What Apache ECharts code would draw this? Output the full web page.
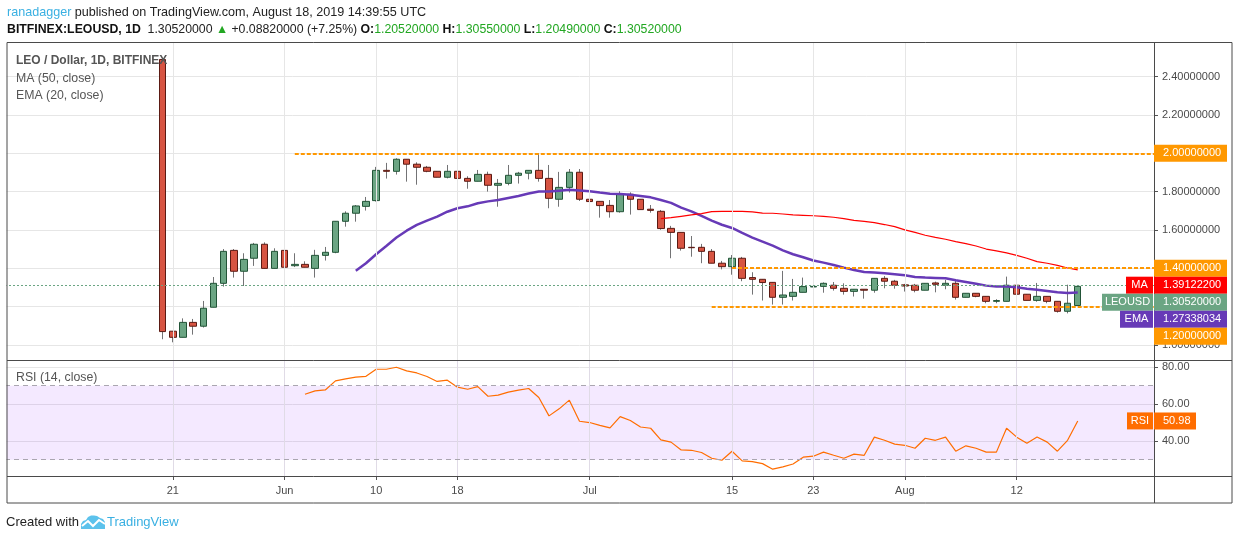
<!DOCTYPE html>
<html>
<head>
<meta charset="utf-8">
<script src="https://cdn.jsdelivr.net/npm/echarts@6/dist/echarts.min.js"></script>
<style>html,body{margin:0;padding:0;background:#fff}#c{width:1234px;height:540px}</style>
</head>
<body>
<div id="c"></div>
<script>
// ---------- DATA ----------
// daily candles from 2019-05-20 to 2019-08-18 : [open, close, low, high]
const ohlc = [
  [2.490,1.069,1.029,2.490],[1.071,1.039,1.013,1.071],[1.039,1.117,1.039,1.138],[1.117,1.097,1.053,1.135],
  [1.097,1.191,1.090,1.229],[1.196,1.321,1.196,1.354],[1.321,1.488,1.304,1.500],[1.493,1.384,1.351,1.500],
  [1.384,1.446,1.307,1.478],[1.452,1.525,1.412,1.532],[1.525,1.399,1.399,1.535],[1.399,1.488,1.399,1.504],
  [1.493,1.405,1.405,1.493],[1.413,1.420,1.406,1.478],[1.420,1.405,1.405,1.436],[1.399,1.467,1.351,1.496],
  [1.467,1.483,1.440,1.511],[1.483,1.645,1.478,1.645],[1.645,1.687,1.617,1.697],[1.687,1.725,1.643,1.730],
  [1.723,1.749,1.701,1.772],[1.753,1.911,1.748,1.929],[1.911,1.906,1.868,1.950],[1.906,1.969,1.889,1.974],
  [1.969,1.943,1.852,1.969],[1.943,1.927,1.836,1.953],[1.927,1.906,1.901,1.934],[1.906,1.875,1.875,1.906],
  [1.875,1.906,1.869,1.939],[1.906,1.869,1.852,1.922],[1.869,1.854,1.815,1.880],[1.854,1.890,1.854,1.913],
  [1.890,1.833,1.800,1.904],[1.833,1.843,1.721,1.866],[1.843,1.885,1.833,1.939],[1.885,1.896,1.842,1.903],
  [1.896,1.911,1.864,1.911],[1.911,1.869,1.852,2.000],[1.869,1.765,1.713,1.939],[1.760,1.822,1.721,1.903],
  [1.822,1.901,1.795,1.918],[1.901,1.760,1.751,1.918],[1.760,1.748,1.748,1.795],[1.749,1.727,1.664,1.749],
  [1.728,1.695,1.664,1.756],[1.695,1.786,1.690,1.802],[1.786,1.760,1.680,1.796],[1.760,1.706,1.706,1.760],
  [1.708,1.702,1.690,1.730],[1.697,1.607,1.601,1.704],[1.608,1.587,1.452,1.621],[1.587,1.504,1.492,1.587],
  [1.509,1.507,1.460,1.568],[1.509,1.488,1.426,1.527],[1.488,1.426,1.426,1.500],[1.426,1.408,1.394,1.438],
  [1.408,1.452,1.366,1.469],[1.452,1.347,1.332,1.459],[1.351,1.342,1.262,1.379],[1.342,1.325,1.231,1.342],
  [1.326,1.248,1.210,1.326],[1.248,1.260,1.210,1.386],[1.253,1.274,1.231,1.344],[1.274,1.304,1.274,1.351],
  [1.302,1.305,1.262,1.339],[1.305,1.321,1.272,1.326],[1.311,1.295,1.283,1.328],[1.295,1.279,1.262,1.321],
  [1.279,1.290,1.252,1.290],[1.290,1.285,1.241,1.290],[1.285,1.347,1.272,1.347],[1.347,1.332,1.295,1.359],
  [1.332,1.311,1.293,1.339],[1.313,1.307,1.278,1.318],[1.311,1.285,1.274,1.318],[1.285,1.321,1.285,1.321],
  [1.323,1.316,1.274,1.330],[1.311,1.321,1.290,1.339],[1.321,1.248,1.236,1.333],[1.248,1.269,1.248,1.269],
  [1.269,1.253,1.248,1.269],[1.253,1.227,1.217,1.253],[1.227,1.231,1.217,1.238],[1.227,1.311,1.227,1.356],
  [1.311,1.264,1.246,1.316],[1.264,1.232,1.232,1.264],[1.232,1.253,1.225,1.323],[1.253,1.227,1.217,1.253],
  [1.227,1.175,1.168,1.227],[1.175,1.217,1.164,1.314],[1.2052,1.3052,1.2049,1.3055]
];
// EMA(20, close) from day index 19
const ema20Start = 19;
const ema20 = [1.387,1.426,1.473,1.516,1.560,1.596,1.626,1.648,1.669,1.695,1.713,1.723,1.739,1.749,1.756,1.767,
  1.777,1.790,1.800,1.800,1.805,1.810,1.806,1.802,1.795,1.789,1.788,1.784,1.777,1.770,1.756,1.741,1.716,1.697,
  1.673,1.648,1.627,1.610,1.584,1.560,1.539,1.518,1.493,1.473,1.457,1.440,1.429,1.417,1.403,1.391,1.380,1.377,
  1.373,1.368,1.363,1.354,1.351,1.349,1.347,1.337,1.328,1.319,1.309,1.304,1.304,1.300,1.293,1.288,1.281,1.274,
  1.270,1.27338034];
// MA(50, close) from day index 49
const ma50Start = 49;
const ma50 = [1.659,1.664,1.671,1.678,1.685,1.695,1.697,1.697,1.697,1.694,1.688,1.687,1.683,1.678,1.676,1.674,
  1.671,1.666,1.659,1.650,1.645,1.638,1.628,1.617,1.600,1.587,1.572,1.561,1.551,1.539,1.528,1.516,1.500,1.490,
  1.480,1.467,1.452,1.434,1.426,1.415,1.401,1.391222];
// RSI(14, close) from day index 14
const rsiStart = 14;
const rsi14 = [65.4,67.2,67.7,72.6,73.7,74.6,75.1,78.9,78.9,80.0,78.0,76.9,75.0,72.3,73.0,69.2,68.1,69.5,64.3,
  64.9,66.5,67.6,68.5,63.6,53.7,57.5,62.2,50.8,50.1,48.6,47.2,53.3,51.2,47.7,47.0,40.7,39.5,35.3,35.1,33.9,30.8,
  29.7,34.6,29.4,29.0,27.9,24.9,26.1,27.7,31.4,31.9,34.1,32.4,30.8,33.0,32.4,42.2,40.5,38.4,37.8,36.2,41.6,40.5,
  42.2,34.6,37.5,36.2,34.1,34.1,47.0,42.2,38.9,42.3,39.5,34.6,40.5,50.98];
// horizontal levels drawn on the chart and the day they start
const levels = [2.0, 1.4, 1.2];
const levelStarts = ['2019-06-02', '2019-07-15', '2019-07-13'];
// tick labels
const priceTicks = [1.0, 1.2, 1.4, 1.6, 1.8, 2.0, 2.2, 2.4];
const rsiTicks = [40, 60, 80];
const timeTickDates = ['2019-05-21','2019-06-01','2019-06-10','2019-06-18','2019-07-01','2019-07-15','2019-07-23','2019-08-01','2019-08-12'];
const timeTickLabels = ['21','Jun','10','18','Jul','15','23','Aug','12'];

// ---------- BUILD ----------
const F = '"Liberation Sans", Arial, sans-serif';
const DAY = 86400000, T0 = Date.UTC(2019, 4, 20);
const dayStr = i => new Date(T0 + i * DAY).toISOString().slice(0, 10);
const categories = [];
for (let i = -15; i <= 97; i++) categories.push(dayStr(i));
const labelOf = {};
timeTickDates.forEach((d, i) => labelOf[d] = timeTickLabels[i]);
const isTick = (idx, v) => labelOf[v] !== undefined;

const wickData = ohlc.map((c, i) => [dayStr(i), c[0], c[1], c[2], c[3]]);
const bodyData = ohlc.map((c, i) => [dayStr(i), c[0], c[1], Math.min(c[0], c[1]), Math.max(c[0], c[1])]);
const emaData = ema20.map((v, i) => [dayStr(ema20Start + i), v]);
const maData = ma50.map((v, i) => [dayStr(ma50Start + i), v]);
const rsiData = rsi14.map((v, i) => [dayStr(rsiStart + i), v]);
const lastClose = ohlc[ohlc.length - 1][1];
const RIGHT_X = 1154;

const chart = echarts.init(document.getElementById('c'), null, {renderer: 'canvas'});

const option = {
  animation: false,
  backgroundColor: '#ffffff',
  grid: [
    {left: 5, right: 80, top: 43, height: 317},
    {left: 5, right: 80, top: 360, height: 116}
  ],
  xAxis: [
    {type: 'category', gridIndex: 0, data: categories, boundaryGap: true, show: false},
    {type: 'category', gridIndex: 1, data: categories, boundaryGap: true,
      axisLine: {show: false}, splitLine: {show: false},
      axisTick: {show: true, alignWithLabel: true, interval: isTick, length: 4, lineStyle: {color: '#555'}},
      axisLabel: {interval: isTick, formatter: v => labelOf[v] || '', color: '#4a4a4a', fontSize: 11, fontFamily: F, margin: 9}}
  ],
  yAxis: [
    {type: 'value', gridIndex: 0, position: 'right', min: 0.9206, max: 2.576,
      axisLine: {show: false},
      axisTick: {show: true, length: 4, customValues: priceTicks, lineStyle: {color: '#555'}},
      axisLabel: {customValues: priceTicks, formatter: v => v.toFixed(8), color: '#4a4a4a', fontSize: 11, fontFamily: F, margin: 8},
      splitLine: {show: true, lineStyle: {color: '#e6e6e6', width: 1}}},
    {type: 'value', gridIndex: 1, position: 'right', min: 21.2, max: 83.9,
      axisLine: {show: false},
      axisTick: {show: true, length: 4, customValues: rsiTicks, lineStyle: {color: '#555'}},
      axisLabel: {customValues: rsiTicks, formatter: v => v.toFixed(2), color: '#4a4a4a', fontSize: 11, fontFamily: F, margin: 8},
      splitLine: {show: true, lineStyle: {color: '#e6e6e6', width: 1}}}
  ],
  series: [
    {type: 'line', xAxisIndex: 0, yAxisIndex: 0, data: [], z: 1, silent: true,
      markLine: {silent: true, animation: false, symbol: ['none', 'none'], label: {show: false},
        lineStyle: {color: '#e6e6e6', width: 1, type: 'solid'},
        data: timeTickDates.map(d => ({xAxis: d}))}},
    {type: 'line', xAxisIndex: 1, yAxisIndex: 1, data: [], z: 1, silent: true,
      markLine: {silent: true, animation: false, symbol: ['none', 'none'], label: {show: false},
        lineStyle: {color: '#e0dbe6', width: 1, type: 'solid'},
        data: timeTickDates.map(d => ({xAxis: d}))}},
    {type: 'line', xAxisIndex: 0, yAxisIndex: 0, data: [], z: 1, silent: true,
      markLine: {silent: true, animation: false, symbol: ['none', 'none'], label: {show: false},
        lineStyle: {color: '#6ba583', width: 1, type: [2, 2]},
        data: [{yAxis: lastClose}]}},
    {name: 'wick', type: 'candlestick', xAxisIndex: 0, yAxisIndex: 0, z: 2, silent: true,
      encode: {x: 0, y: [1, 2, 3, 4]}, data: wickData, barWidth: 1,
      itemStyle: {color: '#737375', color0: '#737375', borderColor: '#737375', borderColor0: '#737375', borderWidth: 1}},
    {name: 'body', type: 'candlestick', xAxisIndex: 0, yAxisIndex: 0, z: 3, silent: true,
      encode: {x: 0, y: [1, 2, 3, 4]}, data: bodyData, barWidth: 7,
      itemStyle: {color: '#6ba583', color0: '#d75442', borderColor: '#225437', borderColor0: '#5b1a13', borderWidth: 1}},
    {name: 'EMA', type: 'line', xAxisIndex: 0, yAxisIndex: 0, z: 4, data: emaData, showSymbol: false, symbol: 'none',
      lineStyle: {color: '#673ab7', width: 2.5}},
    {name: 'MA', type: 'line', xAxisIndex: 0, yAxisIndex: 0, z: 4, data: maData, showSymbol: false, symbol: 'none',
      lineStyle: {color: '#ff0000', width: 1.2}},
    {type: 'line', xAxisIndex: 0, yAxisIndex: 0, data: [], z: 5, silent: true,
      markLine: {silent: true, animation: false, symbol: ['none', 'none'], label: {show: false},
        lineStyle: {color: '#ff9800', width: 2, type: [4, 2]},
        data: levels.map((lv, i) => [{coord: [levelStarts[i], lv]}, {coord: [levelStarts[i], lv], x: RIGHT_X}])}},
    {name: 'RSI', type: 'line', xAxisIndex: 1, yAxisIndex: 1, z: 4, data: rsiData, showSymbol: false, symbol: 'none',
      lineStyle: {color: '#ff6d00', width: 1.2},
      markArea: {silent: true, itemStyle: {color: 'rgba(153,51,255,0.11)'}, data: [[{yAxis: 30}, {yAxis: 70}]]},
      markLine: {silent: true, animation: false, symbol: ['none', 'none'], label: {show: false},
        lineStyle: {color: '#aaa6b0', width: 1, type: [5, 4]},
        data: [{yAxis: 70}, {yAxis: 30}]}}
  ]
};
chart.setOption(option);

// ---------- overlay: frame, texts, value boxes ----------
function txt(x, y, text, st) {
  return {type: 'text', x: x, y: y, z: 100, silent: true,
    style: Object.assign({text: text, fontFamily: F, fontSize: 12, fill: '#333', verticalAlign: 'middle', align: 'left'}, st || {})};
}
function line(x1, y1, x2, y2, color) {
  return {type: 'line', z: 90, silent: true, shape: {x1: x1, y1: y1, x2: x2, y2: y2}, style: {stroke: color || '#4a4a4a', lineWidth: 1}};
}
const G = [];
G.push({type: 'rect', z: 89, silent: true, shape: {x: 0, y: 40, width: 6.5, height: 465}, style: {fill: '#fff'}});
G.push({type: 'rect', z: 90, silent: true, shape: {x: 7, y: 42.5, width: 1225, height: 460.5}, style: {fill: 'none', stroke: '#4a4a4a', lineWidth: 1}});
G.push(line(7, 360.5, 1232, 360.5));
G.push(line(7, 476.5, 1232, 476.5));
G.push(line(RIGHT_X + 0.5, 42.5, RIGHT_X + 0.5, 503));

// header
G.push(txt(7, 12.5, '{u|ranadagger} {t|published on TradingView.com, August 18, 2019 14:39:55 UTC}', {
  rich: {u: {fill: '#3ab0e2', fontSize: 12.6, fontFamily: F}, t: {fill: '#222', fontSize: 12.6, fontFamily: F}}}));
G.push(txt(7, 29.5, '{b|BITFINEX:LEOUSD, 1D}  {n|1.30520000} {g|▲} {n|+0.08820000 (+7.25%)} {b|O:}{g|1.20520000} {b|H:}{g|1.30550000} {b|L:}{g|1.20490000} {b|C:}{g|1.30520000}', {
  rich: {b: {fill: '#111', fontSize: 12.3, fontWeight: 'bold', fontFamily: F},
         n: {fill: '#222', fontSize: 12.3, fontFamily: F},
         g: {fill: '#22a722', fontSize: 12.3, fontFamily: F}}}));
// pane legends
G.push(txt(16, 61, 'LEO / Dollar, 1D, BITFINEX', {fill: '#555', fontSize: 12, fontWeight: 'bold'}));
G.push(txt(16, 78.5, 'MA (50, close)', {fill: '#555', fontSize: 12.3}));
G.push(txt(16, 95.5, 'EMA (20, close)', {fill: '#555', fontSize: 12.3}));
G.push(txt(16, 378, 'RSI (14, close)', {fill: '#555', fontSize: 12.3}));
// footer
G.push(txt(6, 522, 'Created with', {fill: '#222', fontSize: 13}));
G.push({type: 'polygon', z: 100, silent: true, x: 81, y: 514,
  shape: {points: [[0, 15], [0, 10], [2, 7], [5, 6], [7, 3], [10, 1.5], [13, 1.5], [16, 2], [19, 4], [22, 5], [24, 8], [24, 15]]},
  style: {fill: '#5cc2ec'}});
G.push({type: 'polyline', z: 101, silent: true, x: 81, y: 514,
  shape: {points: [[1, 12], [7, 7], [12, 12], [18, 6], [24, 10]]},
  style: {stroke: '#fff', lineWidth: 2, fill: null}});
G.push(txt(107, 522, 'TradingView', {fill: '#3ab0e2', fontSize: 13}));

// value boxes on the price axis
const yPx = v => chart.convertToPixel({yAxisIndex: 0}, v);
const boxes = [
  {v: 2.0, txt: '2.00000000', color: '#ff9800'},
  {v: 1.4, txt: '1.40000000', color: '#ff9800'},
  {v: ma50[ma50.length - 1], txt: ma50[ma50.length - 1].toFixed(8), color: '#ff0000', name: 'MA', nw: 27},
  {v: lastClose, txt: lastClose.toFixed(8), color: '#6ba583', name: 'LEOUSD', nw: 51},
  {v: ema20[ema20.length - 1], txt: ema20[ema20.length - 1].toFixed(8), color: '#673ab7', name: 'EMA', nw: 33},
  {v: 1.2, txt: '1.20000000', color: '#ff9800'}
];
boxes.sort((a, b) => b.v - a.v);
let prevY = -1e9;
const BH = 17;
boxes.forEach(b => {
  let y = Math.max(yPx(b.v), prevY + BH);
  prevY = y;
  G.push({type: 'rect', z: 95, silent: true, shape: {x: RIGHT_X, y: y - BH / 2, width: 73, height: BH}, style: {fill: b.color}});
  G.push(txt(RIGHT_X + 9, y, b.txt, {fill: '#fff', fontSize: 11}));
  if (b.name) {
    G.push({type: 'rect', z: 95, silent: true, shape: {x: RIGHT_X - 1 - b.nw, y: y - BH / 2, width: b.nw, height: BH}, style: {fill: b.color}});
    G.push(txt(RIGHT_X - 1 - b.nw / 2, y, b.name, {fill: '#fff', fontSize: 11, align: 'center'}));
  }
});
// RSI value box
const lastRsi = rsi14[rsi14.length - 1];
const ry = chart.convertToPixel({yAxisIndex: 1}, lastRsi);
G.push({type: 'rect', z: 95, silent: true, shape: {x: RIGHT_X, y: ry - BH / 2, width: 42, height: BH}, style: {fill: '#ff6d00'}});
G.push(txt(RIGHT_X + 9, ry, lastRsi.toFixed(2), {fill: '#fff', fontSize: 11}));
G.push({type: 'rect', z: 95, silent: true, shape: {x: RIGHT_X - 27, y: ry - BH / 2, width: 26, height: BH}, style: {fill: '#ff6d00'}});
G.push(txt(RIGHT_X - 14, ry, 'RSI', {fill: '#fff', fontSize: 11, align: 'center'}));

chart.setOption({graphic: G});
</script>
</body>
</html>
